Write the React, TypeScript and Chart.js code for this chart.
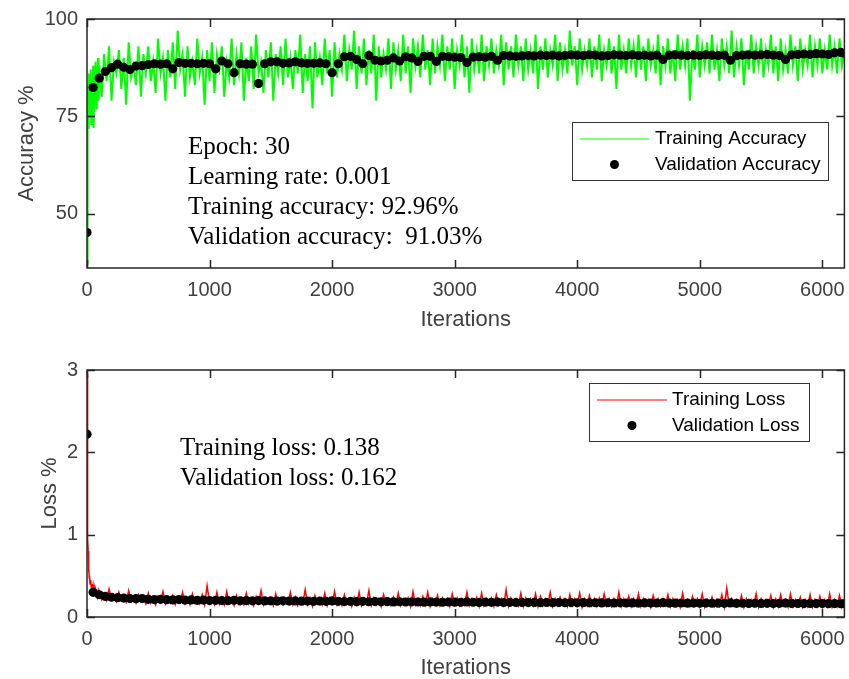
import React, { useEffect, useRef } from "react";
import { Chart, registerables } from "chart.js";
Chart.register(...registerables);

// ---------------- data ----------------
const X_MAX = 6180;
const xTicks = [0, 1000, 2000, 3000, 4000, 5000, 6000];
const accTicks = [50, 75, 100];
const lossTicks = [0, 1, 2, 3];

// training accuracy: fine samples for the first 100 iterations
const accEarlyIters = [0, 2, 4, 6, 8, 10, 13, 16, 20, 25, 30, 35, 40, 45, 50, 55, 60, 65, 70, 75, 80, 85, 90, 95];
const accEarly = [37, 48, 62, 74, 83, 72, 86, 78, 84, 75, 87, 73, 85, 78, 88, 72, 86, 80, 89, 77, 88, 81, 90, 79];
// training accuracy: every 20 iterations from 100 to 6180
const TRAIN_START = 100;
const TRAIN_STEP = 20;
const trainAcc = [
  88, 80, 91, 84, 93, 79, 89, 86, 92, 82,
  90, 78, 94, 85, 88, 83, 93, 80, 91, 86,
  93, 84, 89, 81, 95, 86, 90, 79, 92, 85,
  94, 82, 97, 87, 91, 80, 93, 85, 89, 83,
  95, 86, 90, 78, 92, 84, 94, 81, 91, 87,
  93, 80, 89, 85, 95, 83, 91, 86, 94, 79,
  90, 84, 93, 82, 96, 86, 89, 81, 92, 85,
  94, 79, 91, 86, 93, 83, 95, 85, 90, 82,
  92, 86, 96, 81, 91, 84, 93, 77, 94, 85,
  90, 83, 95, 86, 92, 80, 94, 85, 91, 87,
  96, 84, 92, 87, 97, 82, 93, 86, 95, 83,
  92, 86, 96, 79, 93, 85, 91, 87, 95, 82,
  94, 87, 92, 84, 96, 86, 93, 81, 95, 88,
  93, 85, 96, 87, 92, 83, 95, 86, 93, 88,
  96, 84, 93, 87, 95, 82, 92, 88, 96, 85,
  93, 81, 95, 87, 92, 86, 96, 84, 93, 88,
  95, 86, 92, 88, 96, 83, 94, 87, 93, 85,
  96, 88, 93, 84, 95, 87, 92, 86, 96, 82,
  93, 87, 95, 85, 92, 88, 96, 84, 94, 87,
  92, 86, 97, 88, 93, 83, 95, 87, 92, 88,
  95, 85, 93, 87, 96, 84, 92, 88, 95, 86,
  93, 82, 96, 87, 92, 86, 95, 88, 93, 85,
  96, 87, 93, 84, 95, 88, 92, 86, 96, 83,
  93, 88, 95, 86, 92, 84, 96, 87, 93, 88,
  95, 79, 92, 87, 96, 85, 93, 88, 94, 86,
  96, 87, 92, 84, 95, 88, 93, 86, 97, 85,
  93, 88, 95, 83, 92, 87, 96, 86, 93, 88,
  95, 85, 92, 88, 96, 86, 93, 84, 95, 87,
  92, 86, 96, 88, 93, 84, 95, 87, 92, 88,
  96, 85, 93, 88, 95, 86, 92, 87, 96, 88,
  93, 86, 95, 88, 92,
];

// training loss
const lossEarlyIters = [0, 2, 4, 6, 8, 10, 12, 14, 16, 18, 20, 25, 30, 35, 40, 45, 50, 55, 60, 65, 70, 75, 80, 85, 90, 95];
const lossEarly = [2.95, 2.3, 1.55, 1.2, 0.95, 0.8, 0.62, 0.55, 0.6, 0.48, 0.5, 0.4, 0.45, 0.36, 0.4, 0.33, 0.38, 0.3, 0.35, 0.28, 0.33, 0.27, 0.32, 0.26, 0.31, 0.25];
const trainLoss = [
  0.31, 0.21, 0.27, 0.2, 0.34, 0.22, 0.26, 0.19, 0.3, 0.2,
  0.25, 0.18, 0.32, 0.19, 0.24, 0.17, 0.27, 0.2, 0.23, 0.16,
  0.29, 0.17, 0.23, 0.15, 0.25, 0.18, 0.31, 0.16, 0.22, 0.17,
  0.26, 0.15, 0.23, 0.18, 0.3, 0.16, 0.22, 0.15, 0.28, 0.17,
  0.23, 0.16, 0.27, 0.15, 0.38, 0.17, 0.22, 0.15, 0.3, 0.16,
  0.24, 0.15, 0.31, 0.17, 0.22, 0.14, 0.26, 0.16, 0.23, 0.15,
  0.29, 0.16, 0.22, 0.14, 0.25, 0.17, 0.32, 0.15, 0.23, 0.16,
  0.22, 0.14, 0.28, 0.16, 0.23, 0.15, 0.22, 0.17, 0.3, 0.15,
  0.24, 0.14, 0.22, 0.16, 0.33, 0.15, 0.23, 0.13, 0.26, 0.16,
  0.22, 0.15, 0.29, 0.14, 0.23, 0.16, 0.31, 0.15, 0.22, 0.14,
  0.27, 0.16, 0.22, 0.13, 0.24, 0.15, 0.3, 0.14, 0.22, 0.16,
  0.32, 0.14, 0.23, 0.15, 0.22, 0.13, 0.27, 0.16, 0.22, 0.14,
  0.24, 0.15, 0.29, 0.14, 0.22, 0.16, 0.23, 0.13, 0.31, 0.15,
  0.22, 0.14, 0.25, 0.15, 0.3, 0.13, 0.22, 0.15, 0.26, 0.14,
  0.23, 0.15, 0.22, 0.13, 0.28, 0.15, 0.23, 0.14, 0.22, 0.15,
  0.3, 0.14, 0.22, 0.15, 0.24, 0.13, 0.29, 0.14, 0.22, 0.15,
  0.23, 0.13, 0.27, 0.15, 0.22, 0.14, 0.33, 0.13, 0.23, 0.15,
  0.22, 0.14, 0.29, 0.13, 0.23, 0.15, 0.22, 0.14, 0.28, 0.13,
  0.25, 0.14, 0.22, 0.15, 0.3, 0.13, 0.22, 0.14, 0.24, 0.15,
  0.22, 0.13, 0.27, 0.14, 0.22, 0.15, 0.29, 0.12, 0.22, 0.14,
  0.26, 0.14, 0.22, 0.13, 0.23, 0.15, 0.28, 0.14, 0.22, 0.13,
  0.22, 0.14, 0.3, 0.13, 0.22, 0.14, 0.25, 0.13, 0.22, 0.14,
  0.28, 0.13, 0.22, 0.14, 0.21, 0.12, 0.26, 0.14, 0.22, 0.13,
  0.22, 0.14, 0.27, 0.13, 0.22, 0.14, 0.21, 0.12, 0.29, 0.14,
  0.21, 0.13, 0.25, 0.14, 0.22, 0.13, 0.28, 0.12, 0.21, 0.14,
  0.24, 0.13, 0.21, 0.14, 0.27, 0.12, 0.35, 0.14, 0.22, 0.13,
  0.21, 0.14, 0.26, 0.12, 0.22, 0.13, 0.21, 0.14, 0.28, 0.12,
  0.22, 0.13, 0.21, 0.14, 0.26, 0.12, 0.22, 0.13, 0.27, 0.14,
  0.21, 0.12, 0.28, 0.13, 0.21, 0.14, 0.24, 0.12, 0.21, 0.13,
  0.27, 0.12, 0.21, 0.13, 0.25, 0.12, 0.21, 0.13, 0.28, 0.12,
  0.21, 0.13, 0.26, 0.12, 0.2,
];

// validation: every 50 iterations, last one at the final iteration
const VAL_STEP = 50;
const valAcc = [
  45.1, 82.4, 84.8, 86.5, 87.5, 88.4, 87.6, 87.0, 87.9, 88.0,
  88.3, 88.5, 88.4, 88.5, 87.2, 88.8, 88.6, 88.6, 88.5, 88.6,
  88.5, 87.2, 89.2, 88.5, 86.2, 88.5, 88.4, 88.4, 83.4, 88.5,
  89.0, 89.0, 88.6, 88.7, 89.0, 88.7, 88.6, 88.6, 88.7, 88.5,
  86.2, 88.5, 90.3, 90.4, 89.6, 88.5, 90.6, 89.4, 89.2, 89.4,
  90.0, 89.2, 90.3, 90.0, 89.1, 90.4, 90.4, 89.1, 90.4, 90.3,
  90.2, 90.1, 88.8, 90.2, 90.3, 90.2, 90.4, 89.4, 90.6, 90.5,
  90.4, 90.5, 90.6, 90.5, 90.7, 90.6, 90.7, 90.5, 90.6, 90.8,
  90.7, 90.6, 90.8, 90.7, 90.5, 90.6, 90.8, 90.7, 90.6, 90.8,
  90.6, 90.7, 90.5, 90.7, 89.6, 90.7, 90.8, 90.7, 90.6, 90.7,
  90.6, 90.8, 90.7, 90.6, 90.7, 89.4, 90.6, 90.7, 90.8, 90.7,
  90.8, 90.9, 90.7, 90.6, 89.6, 90.8, 90.9, 91.0, 90.9, 91.1,
  91.0, 90.9, 91.3, 91.4,
  91.2,
];
const valLoss = [
  2.22, 0.30, 0.27, 0.25, 0.24, 0.235, 0.23, 0.225, 0.222, 0.225,
  0.215, 0.212, 0.215, 0.21, 0.208, 0.212, 0.205, 0.207, 0.203, 0.206,
  0.2, 0.203, 0.2, 0.198, 0.202, 0.197, 0.199, 0.196, 0.2, 0.195,
  0.197, 0.194, 0.196, 0.193, 0.195, 0.192, 0.194, 0.19, 0.193, 0.19,
  0.195, 0.19, 0.187, 0.189, 0.186, 0.19, 0.185, 0.187, 0.184, 0.186,
  0.183, 0.185, 0.182, 0.184, 0.182, 0.18, 0.183, 0.181, 0.179, 0.182,
  0.18, 0.178, 0.183, 0.179, 0.177, 0.18, 0.178, 0.181, 0.176, 0.178,
  0.176, 0.177, 0.175, 0.177, 0.174, 0.176, 0.174, 0.175, 0.173, 0.175,
  0.172, 0.174, 0.172, 0.173, 0.171, 0.173, 0.17, 0.172, 0.17, 0.171,
  0.169, 0.171, 0.169, 0.17, 0.174, 0.169, 0.168, 0.17, 0.168, 0.169,
  0.167, 0.169, 0.167, 0.168, 0.166, 0.171, 0.166, 0.167, 0.165, 0.167,
  0.165, 0.166, 0.164, 0.166, 0.169, 0.165, 0.164, 0.163, 0.165, 0.163,
  0.164, 0.162, 0.163, 0.161,
  0.162,
];

const accNotes = ["Epoch: 30", "Learning rate: 0.001", "Training accuracy: 92.96%", "Validation accuracy:  91.03%"];
const lossNotes = ["Training loss: 0.138", "Validation loss: 0.162"];

// ---------------- helpers ----------------
const valIter = (i: number, n: number) => (i === n - 1 ? X_MAX : i * VAL_STEP);
const trainPoints = (earlyIters: number[], early: number[], main: number[]) =>
  early.map((y, i) => ({ x: earlyIters[i], y })).concat(main.map((y, i) => ({ x: TRAIN_START + i * TRAIN_STEP, y })));
const valPoints = (vals: number[]) => vals.map((y, i) => ({ x: valIter(i, vals.length), y }));

const SANS = '"Liberation Sans", Arial, Helvetica, sans-serif';
const SERIF = '"Liberation Serif", "Times New Roman", Times, serif';
const AXIS_COLOR = "#262626";
const LABEL_COLOR = "#404040";

const framePlugin = {
  id: "matlabFrame",
  afterDatasetsDraw(chart: any, _args: any, opts: any) {
    const { ctx, chartArea: ca, scales } = chart;
    ctx.save();
    // box
    ctx.strokeStyle = AXIS_COLOR;
    ctx.lineWidth = 1.5;
    ctx.strokeRect(ca.left, ca.top, ca.right - ca.left, ca.bottom - ca.top);
    // inward ticks
    ctx.beginPath();
    const tl = 8;
    for (const t of scales.x.ticks) {
      const px = Math.round(scales.x.getPixelForValue(t.value)) + 0.5;
      ctx.moveTo(px, ca.bottom);
      ctx.lineTo(px, ca.bottom - tl);
      ctx.moveTo(px, ca.top);
      ctx.lineTo(px, ca.top + tl);
    }
    for (const t of scales.y.ticks) {
      const py = Math.round(scales.y.getPixelForValue(t.value)) + 0.5;
      ctx.moveTo(ca.left, py);
      ctx.lineTo(ca.left + tl, py);
      ctx.moveTo(ca.right, py);
      ctx.lineTo(ca.right - tl, py);
    }
    ctx.stroke();

    // annotation text
    ctx.fillStyle = "#000";
    ctx.font = `25px ${SERIF}`;
    ctx.textAlign = "left";
    ctx.textBaseline = "alphabetic";
    opts.notes.forEach((s: string, i: number) => ctx.fillText(s, opts.noteX, opts.noteY + i * opts.noteGap));

    // legend
    const lg = opts.legend;
    const ds = chart.data.datasets;
    ctx.fillStyle = "#fff";
    ctx.fillRect(lg.x1, lg.y1, lg.x2 - lg.x1, lg.y2 - lg.y1);
    ctx.strokeStyle = "#333";
    ctx.lineWidth = 1;
    ctx.strokeRect(lg.x1, lg.y1, lg.x2 - lg.x1, lg.y2 - lg.y1);
    ctx.strokeStyle = ds[1].borderColor;
    ctx.lineWidth = 1;
    ctx.beginPath();
    ctx.moveTo(lg.lineX1, lg.row1);
    ctx.lineTo(lg.lineX2, lg.row1);
    ctx.stroke();
    ctx.fillStyle = "#000";
    ctx.beginPath();
    ctx.arc((lg.lineX1 + lg.lineX2) / 2, lg.row2, 4.5, 0, Math.PI * 2);
    ctx.fill();
    ctx.font = `19px ${SANS}`;
    ctx.textBaseline = "middle";
    ctx.fillStyle = "#000";
    ctx.fillText(ds[1].label, lg.textX, lg.row1);
    ctx.fillText(ds[0].label, lg.textX, lg.row2);
    ctx.restore();
  },
};

function buildConfig(p: any) {
  return {
    type: "line",
    data: {
      datasets: [
        {
          label: p.valLabel,
          data: p.valData,
          showLine: false,
          pointRadius: 4.6,
          pointBackgroundColor: "#000",
          pointBorderWidth: 0,
          borderColor: "#000",
          order: 0,
        },
        {
          label: p.trainLabel,
          data: p.trainData,
          borderColor: p.color,
          borderWidth: p.lineWidth,
          pointRadius: 0,
          tension: 0,
          order: 1,
        },
      ],
    },
    options: {
      responsive: false,
      animation: false,
      events: [],
      layout: { padding: { top: p.padTop, right: 2, left: 0, bottom: 0 } },
      plugins: {
        legend: { display: false },
        tooltip: { enabled: false },
        matlabFrame: { notes: p.notes, noteX: p.noteX, noteY: p.noteY, noteGap: 30, legend: p.legend },
      },
      scales: {
        x: {
          type: "linear",
          min: 0,
          max: X_MAX,
          grid: { display: false, drawTicks: false, tickLength: 0 },
          border: { display: false },
          ticks: {
            autoSkip: false,
            maxRotation: 0,
            padding: 10,
            color: LABEL_COLOR,
            font: { family: SANS, size: 20 },
            callback: (v: any) => String(v),
          },
          afterBuildTicks: (s: any) => {
            s.ticks = xTicks.map((v) => ({ value: v }));
          },
          afterFit: (s: any) => {
            s.height = p.xAxisH;
            s.paddingLeft = 0;
            s.paddingRight = 0;
          },
          title: {
            display: true,
            text: "Iterations",
            color: LABEL_COLOR,
            font: { family: SANS, size: 22, lineHeight: 1 },
            padding: { top: 0, bottom: p.xTitlePad },
          },
        },
        y: {
          type: "linear",
          min: p.yMin,
          max: p.yMax,
          grid: { display: false, drawTicks: false, tickLength: 0 },
          border: { display: false },
          ticks: {
            autoSkip: false,
            padding: 9,
            color: LABEL_COLOR,
            font: { family: SANS, size: 20 },
            callback: (v: any) => String(v),
          },
          afterBuildTicks: (s: any) => {
            s.ticks = p.yTicks.map((v: number) => ({ value: v }));
          },
          afterFit: (s: any) => {
            s.width = 87;
            s.paddingTop = 0;
            s.paddingBottom = 0;
          },
          title: {
            display: true,
            text: p.yTitle,
            color: LABEL_COLOR,
            font: { family: SANS, size: 22, lineHeight: 1 },
            padding: { top: p.yTitlePad, bottom: 0 },
          },
        },
      },
    },
    plugins: [framePlugin],
  };
}

const TOP_H = 335;
const BOT_H = 344;
const W = 849;

function Plot({ config, top, height }: { config: any; top: number; height: number }) {
  const ref = useRef<HTMLCanvasElement>(null);
  useEffect(() => {
    const chart = new Chart(ref.current as HTMLCanvasElement, config);
    return () => chart.destroy();
  }, []);
  return (
    <canvas
      ref={ref}
      width={W}
      height={height}
      style={{ position: "absolute", left: 0, top, width: W, height, display: "block" }}
    />
  );
}

export default function App() {
  const accConfig = buildConfig({
    valLabel: "Validation Accuracy",
    trainLabel: "Training Accuracy",
    valData: valPoints(valAcc),
    trainData: trainPoints(accEarlyIters, accEarly, trainAcc),
    color: "#00ff00",
    lineWidth: 2,
    padTop: 19,
    xAxisH: TOP_H - 268,
    xTitlePad: 4,
    yMin: 36,
    yMax: 100,
    yTicks: accTicks,
    yTitle: "Accuracy %",
    yTitlePad: 16,
    notes: accNotes,
    noteX: 188,
    noteY: 153.5,
    legend: { x1: 572.5, y1: 122.5, x2: 828.5, y2: 180.5, lineX1: 580, lineX2: 649, row1: 139, row2: 164.5, textX: 655 },
  });
  const lossConfig = buildConfig({
    valLabel: "Validation Loss",
    trainLabel: "Training Loss",
    valData: valPoints(valLoss),
    trainData: trainPoints(lossEarlyIters, lossEarly, trainLoss),
    color: "#ff0000",
    lineWidth: 1.5,
    padTop: 35,
    xAxisH: BOT_H - 282,
    xTitlePad: 0,
    yMin: 0,
    yMax: 3,
    yTicks: lossTicks,
    yTitle: "Loss %",
    yTitlePad: 39,
    notes: lossNotes,
    noteX: 180,
    noteY: 120,
    legend: { x1: 589.5, y1: 48.5, x2: 809.5, y2: 106.5, lineX1: 597, lineX2: 667, row1: 65, row2: 90.5, textX: 672 },
  });
  return (
    <div style={{ position: "absolute", left: 0, top: 0, width: W, height: TOP_H + BOT_H, background: "#fff" }}>
      <Plot config={accConfig} top={0} height={TOP_H} />
      <Plot config={lossConfig} top={TOP_H} height={BOT_H} />
    </div>
  );
}
